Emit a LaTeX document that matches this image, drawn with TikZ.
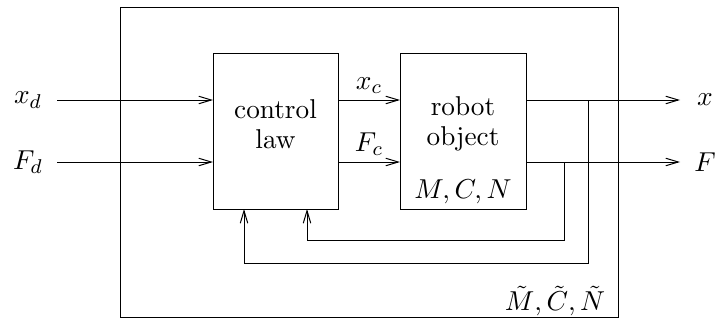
\documentclass[tikz,border=0pt]{standalone}
\usetikzlibrary{arrows.meta}
\begin{document}
\begin{tikzpicture}[x=0.4pt,y=-0.4pt,
  line width=0.4pt,
  font=\fontsize{10.9}{12}\selectfont,
  sig/.style={-{Straight Barb[length=5pt,width=3pt]}},
  blk/.style={draw,minimum width=50pt,minimum height=62.4pt,inner sep=0pt,anchor=north west}]
\useasboundingbox (0,0) rectangle (717,320);
\draw (120,7) rectangle (618,317);
\node[blk,minimum width=50pt] (cl) at (213,53) {};
\node[blk,minimum width=50.4pt] (rb) at (400,53) {};
\node[align=center] (cltxt) at (275.5,124) {control\\law};
\node[align=center] (rbtxt) at (463,124) {robot\\object};
\node (mcn) at (463,192) {$M,C,N$};
\node (mcnt) at (555,301) {$\tilde M,\tilde C,\tilde N$};
\coordinate (xdstart) at (57,100);
\coordinate (Fdstart) at (57,162);
\node (xd) at (28,100) {$x_d$};
\node (Fd) at (28,162) {$F_d$};
\coordinate (clxin) at (213,100);
\coordinate (clFin) at (213,162);
\draw[sig] (xdstart) -- (clxin);
\draw[sig] (Fdstart) -- (clFin);
\coordinate (clxout) at (338,100);
\coordinate (clFout) at (338,162);
\coordinate (rbxin) at (400,100);
\coordinate (rbFin) at (400,162);
\draw[sig] (clxout) -- node[above=-1pt] (xc) {$x_c$} (rbxin);
\draw[sig] (clFout) -- node[above=-1pt] (Fc) {$F_c$} (rbFin);
\coordinate (rbxout) at (526,100);
\coordinate (rbFout) at (526,162);
\coordinate (xend) at (680,100);
\coordinate (Fend) at (680,162);
\node (x) at (705,100) {$x$};
\node (F) at (705,162) {$F$};
\draw[sig] (rbxout) -- (xend);
\draw[sig] (rbFout) -- (Fend);
\coordinate (fbF) at (564,162);
\coordinate (fbx) at (588,100);
\coordinate (clb1) at (307,209);
\coordinate (clb2) at (244,209);
\draw[sig] (fbF) |- (307,240) -- (clb1);
\draw[sig] (fbx) |- (244,263) -- (clb2);
\end{tikzpicture}
\end{document}
